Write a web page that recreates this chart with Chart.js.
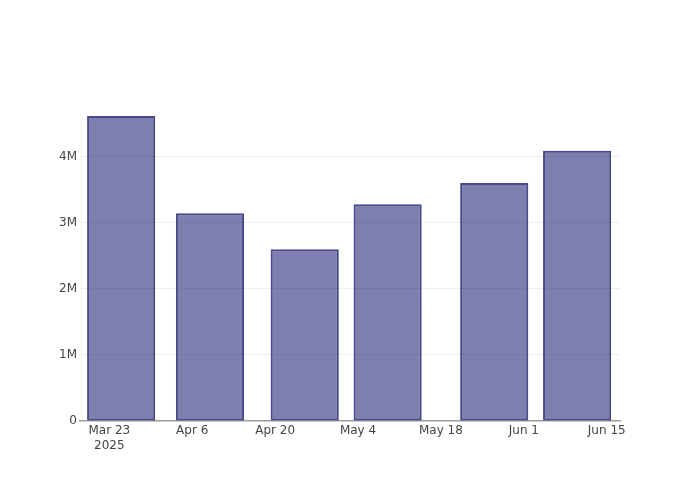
<!DOCTYPE html>
<html>
<head>
<meta charset="utf-8">
<script src="https://cdn.jsdelivr.net/npm/chart.js@4.4.1/dist/chart.umd.min.js"></script>
<style>
html,body{margin:0;padding:0;background:#fff;}
#wrap{width:700px;height:500px;position:relative;}
</style>
</head>
<body>
<div id="wrap"><canvas id="c" width="700" height="500"></canvas></div>
<script>
// Data
const barDates = ['2025-03-25','2025-04-09','2025-04-25','2025-05-09','2025-05-27','2025-06-10'];
const barValues = [4620000, 3147000, 2602000, 3283000, 3606000, 4095000];
const xTickDates = ['2025-03-23','2025-04-06','2025-04-20','2025-05-04','2025-05-18','2025-06-01','2025-06-15'];
const xTickLabels = [['Mar 23','2025'],'Apr 6','Apr 20','May 4','May 18','Jun 1','Jun 15'];
const yTickValues = [0, 1000000, 2000000, 3000000, 4000000];
const yTickLabels = ['0','1M','2M','3M','4M'];

const DAY = 86400000;
const dayNum = s => { const p = s.split('-').map(Number); return Date.UTC(p[0], p[1]-1, p[2]) / DAY; };

const points = barDates.map((d, i) => ({x: dayNum(d), y: barValues[i]}));
const xTicks = xTickDates.map(dayNum);
const xMin = dayNum('2025-03-23') - 4.95;
const xMax = dayNum('2025-03-23') + 86.24;

Chart.defaults.font.family = '"DejaVu Sans", sans-serif';
Chart.defaults.font.size = 12;
Chart.defaults.color = '#444';

new Chart(document.getElementById('c'), {
  type: 'bar',
  data: {
    datasets: [{
      data: points,
      backgroundColor: 'rgba(42,42,122,0.6)',
      borderColor: 'rgba(40,40,120,0.85)',
      borderWidth: 2,
      borderSkipped: false,
      categoryPercentage: 0.822,
      barPercentage: 1.0
    }]
  },
  options: {
    responsive: false,
    animation: false,
    layout: { padding: { left: 0, right: 80, top: 101, bottom: 0 } },
    plugins: { legend: { display: false }, tooltip: { enabled: false } },
    scales: {
      x: {
        type: 'linear',
        offset: false,
        min: xMin,
        max: xMax,
        afterFit: s => { s.height = 79; },
        afterBuildTicks: s => { s.ticks = xTicks.map(v => ({value: v})); },
        ticks: {
          autoSkip: false,
          maxRotation: 0,
          padding: 2,
          font: { lineHeight: 1.28 },
          callback: (v, i) => xTickLabels[i]
        },
        grid: { display: false, drawTicks: false, offset: false },
        border: { display: true, color: '#9a9a9a', width: 1.5 }
      },
      y: {
        min: 0,
        max: 4848000,
        afterFit: s => { s.width = 80; },
        afterBuildTicks: s => { s.ticks = yTickValues.map(v => ({value: v})); },
        ticks: {
          padding: 3,
          callback: (v, i) => yTickLabels[i]
        },
        grid: {
          drawTicks: false,
          color: ctx => ctx.tick && ctx.tick.value === 0 ? 'rgba(0,0,0,0)' : '#eeeeee',
          lineWidth: 1
        },
        border: { display: false }
      }
    }
  }
});
</script>
</body>
</html>
